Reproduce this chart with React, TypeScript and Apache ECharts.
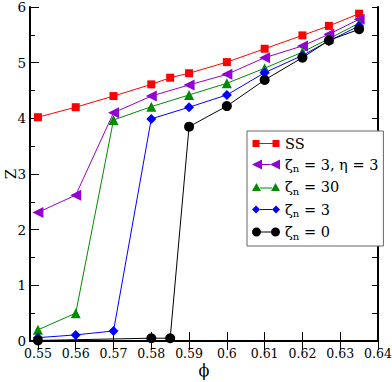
import React, { useEffect, useRef } from "react";
import * as echarts from "echarts";

const phiSS = [0.55, 0.56, 0.57, 0.58, 0.585, 0.59, 0.6, 0.61, 0.62, 0.627, 0.635];
const zSS = [4.02, 4.2, 4.4, 4.61, 4.73, 4.81, 5.01, 5.25, 5.49, 5.66, 5.88];
const phiMain = [0.55, 0.56, 0.57, 0.58, 0.59, 0.6, 0.61, 0.62, 0.627, 0.635];
const zEta3 = [2.31, 2.62, 4.1, 4.4, 4.6, 4.79, 5.09, 5.3, 5.51, 5.78];
const z30 = [0.2, 0.5, 3.97, 4.21, 4.42, 4.63, 4.9, 5.19, 5.43, 5.71];
const z3 = [0.06, 0.11, 0.18, 3.99, 4.2, 4.42, 4.82, 5.13, 5.39, 5.66];
const phi0 = [0.55, 0.58, 0.585, 0.59, 0.6, 0.61, 0.62, 0.627, 0.635];
const z0 = [0.01, 0.05, 0.05, 3.85, 4.22, 4.69, 5.09, 5.4, 5.6];

const xTicks = [0.55, 0.56, 0.57, 0.58, 0.59, 0.6, 0.61, 0.62, 0.63, 0.64];
const seriesNames = ["SS", "zn33", "zn30", "zn3", "zn0"];
const legendLabels: Record<string, string> = {
  SS: "{t|SS}",
  zn33: "{t|ζ}{s|n}{t| = 3, η = 3}",
  zn30: "{t|ζ}{s|n}{t| = 30}",
  zn3: "{t|ζ}{s|n}{t| = 3}",
  zn0: "{t|ζ}{s|n}{t| = 0}",
};

const FONT = "DejaVu Serif";
const pin = "M0,0h0.05v0.05h-0.05z M27.95,9.95h0.05v0.05h-0.05z ";
const icons = [
  pin + "M0.5,1.5h7v7h-7z M20.5,1.5h7v7h-7z M7,4.5h14v1h-14z",
  pin + "M0,5L10,0L10,10z M18,5L28,0L28,10z M10,4.5h8v1h-8z",
  pin + "M0,9L4.5,1L9,9z M19,9L23.5,1L28,9z M8,5.5h12v1h-12z",
  pin + "M0,5L4,1L8,5L4,9z M20,5L24,1L28,5L24,9z M8,4.5h12v1h-12z",
  pin + "M0,5a4.5,4.5 0 1 0 9 0a4.5,4.5 0 1 0 -9 0z M19,5a4.5,4.5 0 1 0 9 0a4.5,4.5 0 1 0 -9 0z M9,4.5h10v1h-10z",
];

function pairs(xs: number[], ys: number[]) {
  return xs.map((x, i) => [x, ys[i]]);
}

export default function App() {
  const ref = useRef<HTMLDivElement>(null);
  useEffect(() => {
    document.body.style.margin = "0";
    const chart = echarts.init(ref.current!, undefined, { renderer: "svg" });
    const colors = ["#ff0000", "#9400d3", "#008b00", "#0000ff", "#000000"];
    const symbols = ["rect", "path://M0,5L10,0L10,10Z", "triangle", "diamond", "circle"];
    const sizes = [8, 11, 10, 10, 10];
    const data = [
      pairs(phiSS, zSS),
      pairs(phiMain, zEta3),
      pairs(phiMain, z30),
      pairs(phiMain, z3),
      pairs(phi0, z0),
    ];
    const axisLine = { show: true, lineStyle: { color: "#000", width: 2 } };
    chart.setOption({
      animation: false,
      textStyle: { fontFamily: FONT },
      grid: { left: 30, right: 14, top: 7, bottom: 41, outerBoundsMode: "none" },
      xAxis: [
        {
          type: "value",
          min: 0.5479,
          max: 0.64,
          axisLine,
          axisTick: { inside: true, length: 9, customValues: xTicks, lineStyle: { color: "#000", width: 1 } },
          axisLabel: {
            customValues: xTicks,
            margin: 6,
            fontFamily: FONT,
            fontSize: 12.5,
            color: "#000",
            formatter: (v: number) => String(+v.toFixed(3)),
          },
          splitLine: { show: false },
          name: "ϕ",
          nameLocation: "middle",
          nameGap: 21,
          nameMoveOverlap: false,
          nameTextStyle: { fontFamily: FONT, fontSize: 16, color: "#000", verticalAlign: "top" },
        },
        {
          type: "value",
          position: "top",
          min: 0.5479,
          max: 0.64,
          axisLine,
          axisTick: { inside: true, length: 9, customValues: xTicks, lineStyle: { color: "#000", width: 1 } },
          axisLabel: { show: false },
          splitLine: { show: false },
        },
      ],
      yAxis: [
        {
          type: "value",
          min: 0,
          max: 6,
          interval: 1,
          axisLine,
          axisTick: { inside: true, length: 9, lineStyle: { color: "#000", width: 1 } },
          minorTick: { show: true, splitNumber: 2, length: 5, lineStyle: { color: "#000", width: 1 } },
          axisLabel: { margin: 4, fontFamily: FONT, fontSize: 13.5, color: "#000" },
          splitLine: { show: false },
          name: "Z",
          nameLocation: "middle",
          nameRotate: 90,
          nameGap: 12,
          nameMoveOverlap: false,
          nameTextStyle: { fontFamily: FONT, fontSize: 15, color: "#000" },
        },
        {
          type: "value",
          position: "right",
          min: 0,
          max: 6,
          interval: 0.5,
          axisLine,
          axisTick: { inside: true, length: 6, lineStyle: { color: "#000", width: 1 } },
          axisLabel: { show: false },
          splitLine: { show: false },
        },
      ],
      legend: {
        orient: "vertical",
        left: 247,
        top: 131,
        itemWidth: 28,
        itemHeight: 10,
        itemGap: 6,
        padding: [5, 5, 5, 5],
        borderColor: "#666",
        borderWidth: 1,
        backgroundColor: "#fff",
        data: seriesNames.map((n, i) => ({ name: n, icon: "path://" + icons[i] })),
        formatter: (n: string) => legendLabels[n],
        textStyle: {
          color: "#000",
          fontFamily: FONT,
          rich: {
            t: { fontFamily: FONT, fontSize: 14.5, color: "#000" },
            s: { fontFamily: FONT, fontSize: 10, color: "#000", verticalAlign: "bottom", padding: [8, 0, 0, 0] },
          },
        },
      },
      series: seriesNames.map((n, i) => ({
        name: n,
        type: "line",
        xAxisIndex: 0,
        yAxisIndex: 0,
        data: data[i],
        symbol: symbols[i],
        symbolSize: sizes[i],
        clip: false,
        lineStyle: { color: colors[i], width: 1 },
        itemStyle: { color: colors[i], borderColor: colors[i], borderWidth: 0 },
      })),
    });
    return () => chart.dispose();
  }, []);
  return <div ref={ref} style={{ width: 392, height: 382 }} />;
}
